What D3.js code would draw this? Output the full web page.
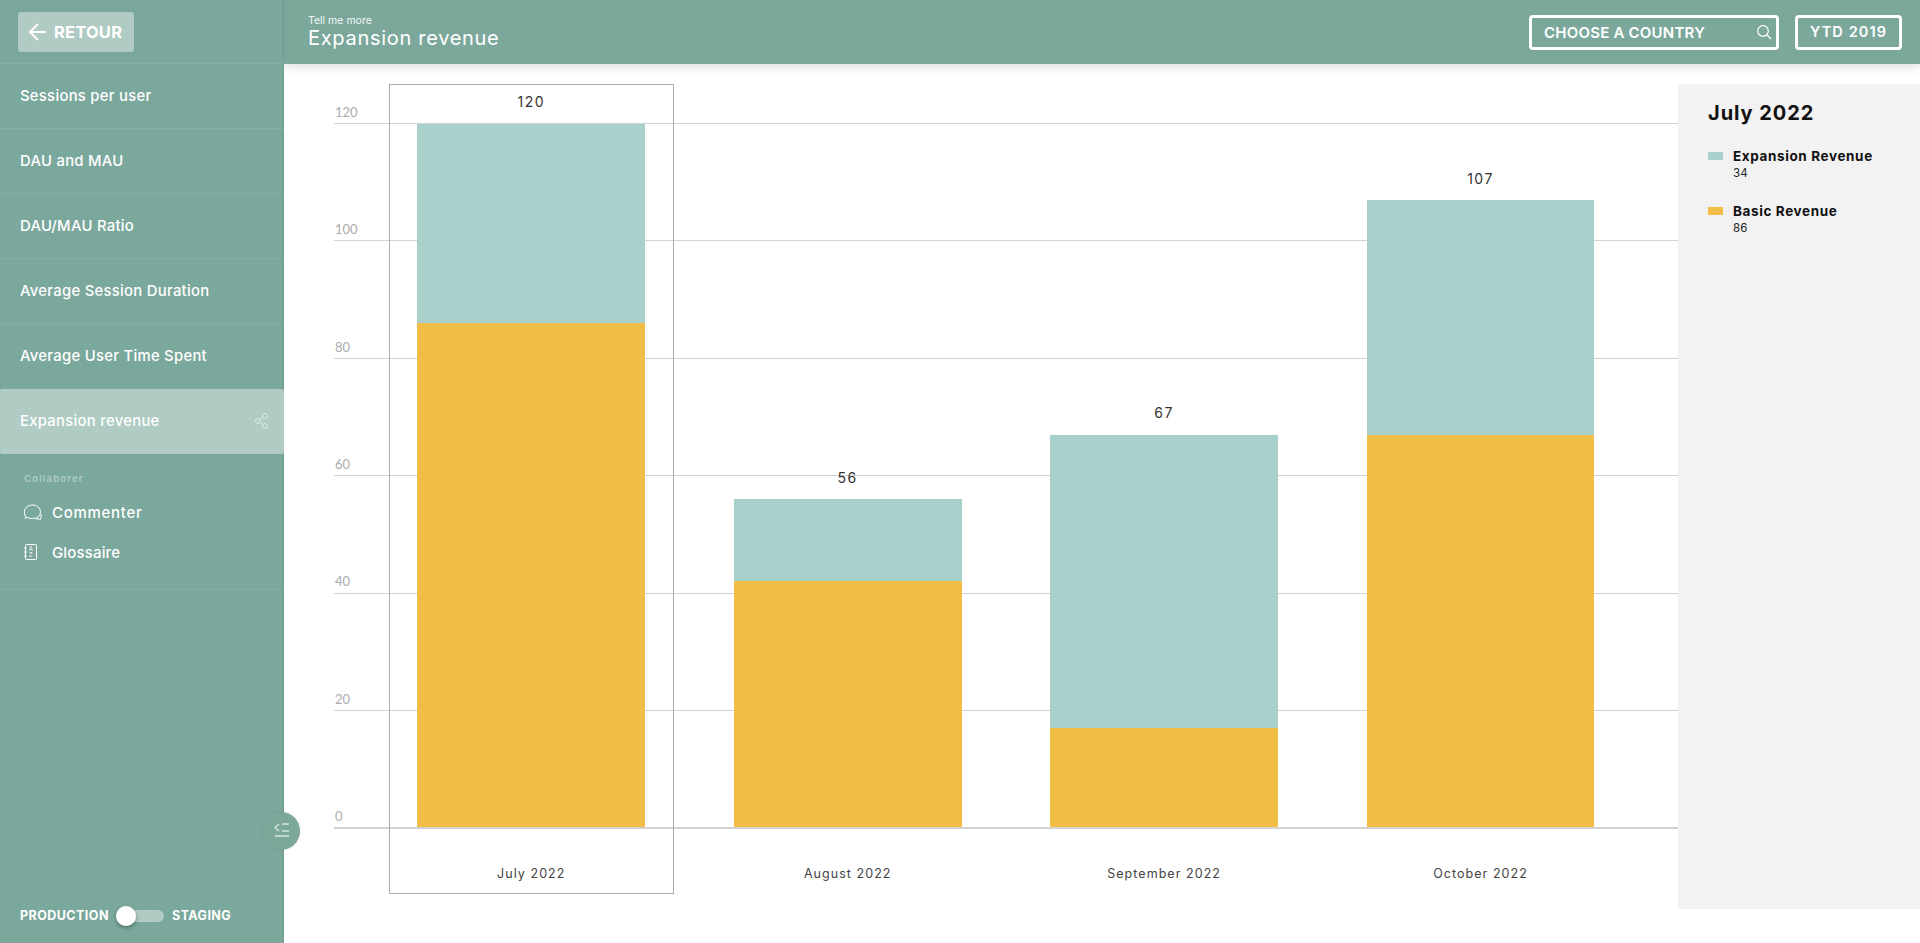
<!DOCTYPE html>
<html><head><meta charset="utf-8">
<script src="https://cdn.jsdelivr.net/npm/d3@7/dist/d3.min.js"></script>
<style>
html,body{margin:0;padding:0;background:#fff;overflow:hidden}
svg{display:block;font-family:Inter,"Noto Sans",sans-serif}
</style></head><body>
<svg id="c" width="1920" height="943"></svg>
<script>
const categories = ["July 2022","August 2022","September 2022","October 2022"];
const basicRevenue = [86,42,17,67];
const expansionRevenue = [34,14,50,40];
const totals = [120,56,67,107];
const yTicks = [0,20,40,60,80,100,120];
const seriesNames = ["Expansion Revenue","Basic Revenue"];
const menuItems = ["Sessions per user","DAU and MAU","DAU/MAU Ratio","Average Session Duration","Average User Time Spent","Expansion revenue"];

const GREEN="#7ba89c", TEAL="#a8d1cc", YEL="#f2bd47", LIGHT="#afcbc3";
const svg=d3.select("#c");
const defs=svg.append("defs");
const f=defs.append("filter").attr("id","sh").attr("x","-20%").attr("y","-50%").attr("width","140%").attr("height","200%");
f.append("feDropShadow").attr("dx",0).attr("dy",3).attr("stdDeviation",5).attr("flood-color","#000").attr("flood-opacity",.13);
const k=defs.append("filter").attr("id","kn").attr("x","-50%").attr("y","-50%").attr("width","200%").attr("height","200%");
k.append("feDropShadow").attr("dx",0).attr("dy",2).attr("stdDeviation",2).attr("flood-color","#000").attr("flood-opacity",.35);
const k2=defs.append("filter").attr("id","cs").attr("x","-30%").attr("y","-30%").attr("width","160%").attr("height","160%");
k2.append("feDropShadow").attr("dx",0).attr("dy",0).attr("stdDeviation",1.5).attr("flood-color","#000").attr("flood-opacity",.12);

const x=d3.scaleBand().domain(categories).range([373.1,1638.7]).paddingInner(.28).paddingOuter(.14);
const y=d3.scaleLinear().domain([0,120]).range([828,123.5]);

// side panel
svg.append("rect").attr("x",1678).attr("y",84).attr("width",242).attr("height",825).attr("fill","#f2f2f2");

// grid + axis
const gAxis=svg.append("g").attr("transform","translate(334,-0.6)")
  .call(d3.axisLeft(y).tickValues(yTicks).tickSize(-1344).tickFormat(d3.format("d")));
gAxis.select(".domain").remove();
gAxis.selectAll(".tick line").attr("stroke","#d2d2d2").attr("stroke-width",d=>d===0?2:1).attr("shape-rendering","crispEdges");
gAxis.selectAll(".tick text").attr("x",1).attr("dy",-10).attr("text-anchor","start").attr("dominant-baseline","middle")
  .attr("fill","#ababab").attr("font-size",13).attr("font-weight",400).attr("font-family","Lato");

// bars
const rows=categories.map((c,i)=>({c,b:basicRevenue[i],e:expansionRevenue[i],t:totals[i]}));
const bars=svg.append("g").attr("shape-rendering","crispEdges");
bars.selectAll(".b").data(rows).join("rect").attr("class","b").attr("x",d=>x(d.c)).attr("width",x.bandwidth())
  .attr("y",d=>y(d.b)).attr("height",d=>y(0)-y(d.b)-1).attr("fill",YEL);
bars.selectAll(".e").data(rows).join("rect").attr("class","e").attr("x",d=>x(d.c)).attr("width",x.bandwidth())
  .attr("y",d=>y(d.b+d.e)).attr("height",d=>y(d.b)-y(d.b+d.e)).attr("fill",TEAL);

// highlight box
const sel=categories[0];
svg.append("rect").attr("x",389.5).attr("y",84.5).attr("width",284).attr("height",809)
  .attr("fill","none").attr("stroke","#ababab").attr("stroke-width",1);

// value labels
svg.append("g").selectAll("text").data(rows).join("text")
  .attr("x",d=>x(d.c)+x.bandwidth()/2).attr("y",d=>y(d.t)-20).attr("text-anchor","middle").attr("dominant-baseline","middle")
  .attr("font-size",14).attr("letter-spacing",1.5).attr("fill","#333").text(d=>d.t);
// month labels
svg.append("g").selectAll("text").data(rows).join("text")
  .attr("x",d=>x(d.c)+x.bandwidth()/2).attr("y",874.5).attr("text-anchor","middle").attr("dominant-baseline","middle")
  .attr("font-size",12.5).attr("letter-spacing",1.05).attr("fill","#444").text(d=>d.c);

// panel legend
const tx=(p,s)=>{const t=p.append("text").attr("dominant-baseline","middle");Object.entries(s).forEach(([a,v])=>a==="text"?t.text(v):t.attr(a,v));return t;};
tx(svg,{x:1708,y:115,"font-size":20,"font-weight":700,"letter-spacing":.95,fill:"#111",text:sel});
[{n:seriesNames[0],v:expansionRevenue[0],c:TEAL,yy:156},{n:seriesNames[1],v:basicRevenue[0],c:YEL,yy:211}].forEach(l=>{
  svg.append("rect").attr("x",1708).attr("y",l.yy-4).attr("width",15).attr("height",8).attr("fill",l.c);
  tx(svg,{x:1733,y:l.yy+1,"font-size":13.5,"font-weight":700,"letter-spacing":.62,fill:"#111",text:l.n});
  tx(svg,{x:1733,y:l.yy+18,"font-size":11.5,"letter-spacing":.2,fill:"#222",text:l.v});
});

// header
svg.append("rect").attr("x",284).attr("y",0).attr("width",1636).attr("height",64).attr("fill",GREEN).attr("filter","url(#sh)");
tx(svg,{x:308,y:21.5,"font-size":10.5,fill:"#f2f7f5",text:"Tell me more"});
tx(svg,{x:308,y:40,"font-size":20,fill:"#fff","letter-spacing":.7,text:"Expansion revenue"});
[[1530.5,16.5,247,32],[1796.5,16.5,104,32]].forEach(r=>svg.append("rect").attr("x",r[0]).attr("y",r[1]).attr("width",r[2]).attr("height",r[3]).attr("rx",2.5).attr("fill","none").attr("stroke","#fff").attr("stroke-width",3));
tx(svg,{x:1544,y:33.5,"font-size":15,"font-weight":600,fill:"#fff","letter-spacing":.22,text:"CHOOSE A COUNTRY"});
tx(svg,{x:1810,y:33.5,"font-size":14.5,"font-weight":600,fill:"#fff","letter-spacing":1.1,text:"YTD 2019"});
const ic=svg.append("g").attr("fill","none").attr("stroke","#fff").attr("stroke-width",1.2);
ic.append("circle").attr("cx",1763).attr("cy",31).attr("r",5.3);
ic.append("path").attr("d","M1767 35 L1771 39");

// sidebar
const side=svg.append("g");
side.append("rect").attr("width",284).attr("height",943).attr("fill",GREEN);
side.append("rect").attr("x",283).attr("width",1).attr("height",943).attr("fill","#6f9b8f");
[63,128,193,258,323,589].forEach(v=>side.append("rect").attr("x",0).attr("y",v).attr("width",284).attr("height",1).attr("fill","#86afa4"));
side.append("rect").attr("x",18).attr("y",12).attr("width",116).attr("height",40).attr("rx",3).attr("fill",LIGHT);
side.append("path").attr("d","M46 32 H31 M38 24 L30 32 L38 40").attr("fill","none").attr("stroke","#fff").attr("stroke-width",2);
tx(side,{x:54,y:33.5,"font-size":16.5,"font-weight":700,fill:"#fff","letter-spacing":.2,text:"RETOUR"});
side.append("rect").attr("x",0).attr("y",389).attr("width",284).attr("height",65).attr("rx",2).attr("fill",LIGHT);
menuItems.forEach((m,i)=>tx(side,{x:20,y:97+65*i,"font-size":14.8,"font-weight":500,fill:"#fff","letter-spacing":.3,text:m}));
const sh=side.append("g").attr("fill","none").attr("stroke","#dcebe6").attr("stroke-width",1);
sh.append("circle").attr("cx",258).attr("cy",421).attr("r",2.5);
sh.append("circle").attr("cx",265).attr("cy",416).attr("r",2.5);
sh.append("circle").attr("cx",265).attr("cy",426).attr("r",2.5);
sh.append("path").attr("d","M260.2 419.8 L262.8 417.4 M260.2 422.2 L262.8 424.6");
tx(side,{x:24,y:479.5,"font-size":9.5,"font-weight":500,fill:"#b6d0c9","letter-spacing":1.25,text:"Collaborer"});
tx(side,{x:52,y:514,"font-size":15,"font-weight":500,fill:"#fff","letter-spacing":.7,text:"Commenter"});
tx(side,{x:52,y:554,"font-size":15,"font-weight":500,fill:"#fff","letter-spacing":.15,text:"Glossaire"});
const ci=side.append("g").attr("fill","none").attr("stroke","#fff").attr("stroke-width",1);
ci.append("path").attr("d","M26 517 C22 512 25 505 33 505 C40 505 43 513 38 517 C35 519 30 519 26 517 L25 519");
ci.append("path").attr("d","M41 514 L41 519 L36 519");
ci.append("rect").attr("x",25.5).attr("y",544.5).attr("width",11).attr("height",15).attr("rx",1);
ci.append("path").attr("d","M24 548 H27 M24 552 H27 M24 556 H27");
tx(side,{x:29,y:549,"font-size":5.5,fill:"#fff",text:"A"});
tx(side,{x:29,y:555.5,"font-size":5.5,fill:"#fff",text:"Z"});
tx(side,{x:20,y:917,"font-size":12.5,"font-weight":700,fill:"#fff","letter-spacing":.45,text:"PRODUCTION"});
tx(side,{x:172,y:917,"font-size":12.5,"font-weight":700,fill:"#fff","letter-spacing":.45,text:"STAGING"});
side.append("rect").attr("x",120).attr("y",910).attr("width",44).attr("height",12).attr("rx",6).attr("fill",LIGHT);
side.append("circle").attr("cx",126).attr("cy",916).attr("r",10).attr("fill","#fff").attr("filter","url(#kn)");
// collapse control
side.append("circle").attr("cx",281).attr("cy",831).attr("r",19).attr("fill",GREEN).attr("filter","url(#cs)");
side.append("path").attr("d","M279 824 L275 827.5 L279 831 M282 824 H289 M282 831 H289 M275 836 H289").attr("fill","none").attr("stroke","#d6e6e1").attr("stroke-width",1.3);
</script></body></html>
